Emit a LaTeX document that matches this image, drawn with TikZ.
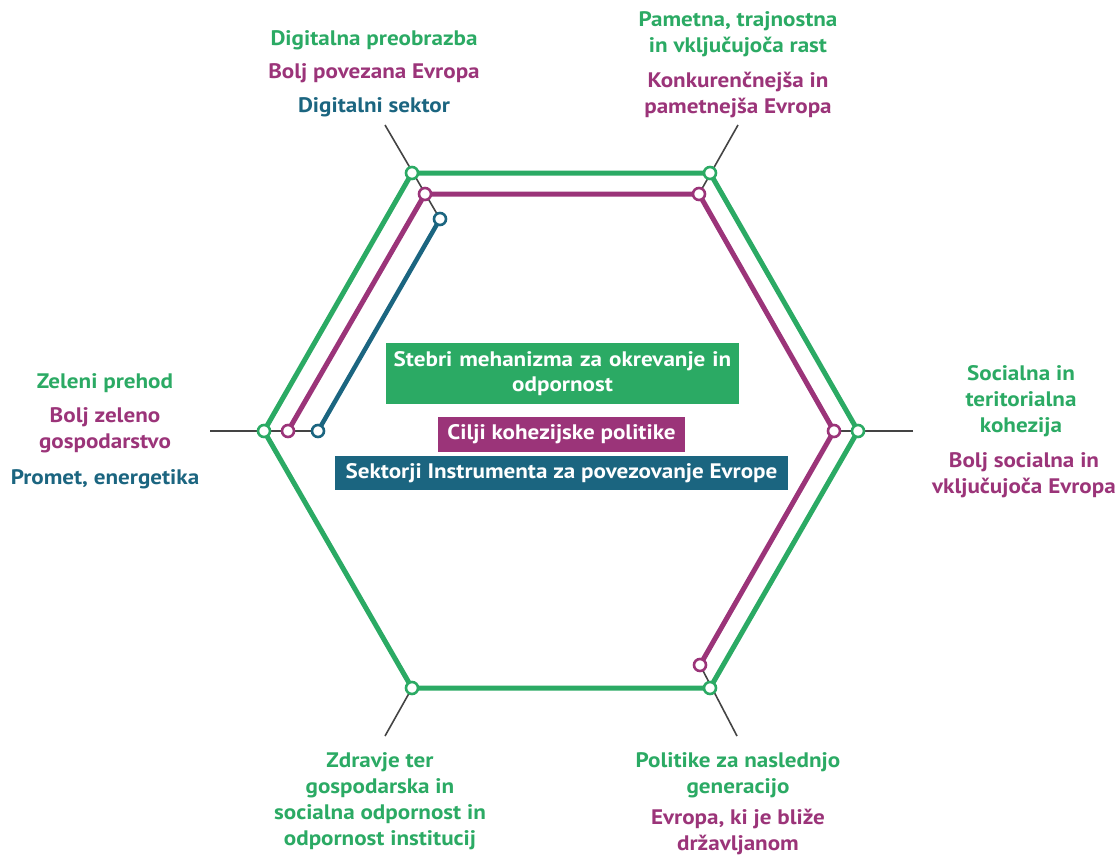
\documentclass[tikz,border=0pt]{standalone}
\usepackage{fontspec}
\setmainfont{PT Sans}[FakeStretch=1.1]
\definecolor{cgreen}{HTML}{2BAA64}
\definecolor{cmag}{HTML}{9B3479}
\definecolor{cblue}{HTML}{1B6580}
\definecolor{cgray}{HTML}{444444}
\tikzset{
  spoke/.style={draw=cgray, line width=1.6pt},
  gline/.style={draw=cgreen, line width=5pt, line join=miter},
  mline/.style={draw=cmag, line width=5pt, line join=miter},
  bline/.style={draw=cblue, line width=4.5pt},
  dot/.style={circle, draw=#1, fill=white, line width=2.6pt, minimum size=12pt, inner sep=0pt},
  lab/.style={text=#1, font=\fontsize{21}{26}\selectfont\bfseries, align=center, inner sep=0pt},
  boxlab/.style={fill=#1, text=white, font=\fontsize{21}{25}\selectfont\bfseries, align=center, inner sep=0pt}
}
\begin{document}
\begin{tikzpicture}[x=1pt,y=-1pt]
\useasboundingbox (0,0) rectangle (1116,857);
% vertex coordinates
\coordinate (G1) at (412,173);
\coordinate (G2) at (710,173);
\coordinate (G3) at (858,431);
\coordinate (G4) at (710,688);
\coordinate (G5) at (412,688);
\coordinate (G6) at (264,431);
\coordinate (M1) at (288,431);
\coordinate (M2) at (425,194);
\coordinate (M3) at (699,194);
\coordinate (M4) at (834,431);
\coordinate (M5) at (700,665);
\coordinate (B1) at (318,431);
\coordinate (B2) at (440,219);
% spoke ends
\coordinate (S1) at (385,125);
\coordinate (S2) at (738,125);
\coordinate (S3) at (913,431);
\coordinate (S4) at (737,736);
\coordinate (S5) at (385,736);
\coordinate (S6) at (210,431);
% spokes
\draw[spoke] (S1) -- (B2);
\draw[spoke] (S2) -- (M3);
\draw[spoke] (S3) -- (M4);
\draw[spoke] (S4) -- (M5);
\draw[spoke] (S5) -- (G5);
\draw[spoke] (S6) -- (B1);
% lines
\draw[gline] (G1) -- (G2) -- (G3) -- (G4) -- (G5) -- (G6) -- cycle;
\draw[mline] (M1) -- (M2) -- (M3) -- (M4) -- (M5);
\draw[bline] (B1) -- (B2);
% dots
\foreach \n in {1,...,6} {\node[dot=cgreen] (g\n) at (G\n) {};}
\foreach \n in {1,...,5} {\node[dot=cmag] (m\n) at (M\n) {};}
\foreach \n in {1,2} {\node[dot=cblue] (b\n) at (B\n) {};}
% labels top-left
\node[lab=cgreen] (t1) at (374,40) {Digitalna preobrazba};
\node[lab=cmag] (t2) at (374,73) {Bolj povezana Evropa};
\node[lab=cblue] (t3) at (374,107) {Digitalni sektor};
% top-right
\node[lab=cgreen] (t4) at (738,34) {Pametna, trajnostna\\in vključujoča rast};
\node[lab=cmag] (t5) at (738,95) {Konkurenčnejša in\\pametnejša Evropa};
% left
\node[lab=cgreen] (t6) at (105,383) {Zeleni prehod};
\node[lab=cmag] (t7) at (105,430) {Bolj zeleno\\gospodarstvo};
\node[lab=cblue] (t8) at (105,479) {Promet, energetika};
% right
\node[lab=cgreen] (t9) at (1021,401) {Socialna in\\teritorialna\\kohezija};
\node[lab=cmag] (t10) at (1024,475) {Bolj socialna in\\vključujoča Evropa};
% bottom-left
\node[lab=cgreen] (t11) at (380,801) {Zdravje ter\\gospodarska in\\socialna odpornost in\\odpornost institucij};
% bottom-right
\node[lab=cgreen] (t12) at (738,775) {Politike za naslednjo\\generacijo};
\node[lab=cmag] (t13) at (738,832) {Evropa, ki je bliže\\državljanom};
% center boxes
\node[boxlab=cgreen, minimum width=353pt, minimum height=61pt, text width=345pt] (c1) at (562.5,373.5) {Stebri mehanizma za okrevanje in\\odpornost};
\node[boxlab=cmag, minimum width=247pt, minimum height=35pt] (c2) at (561.5,434.5) {Cilji kohezijske politike};
\node[boxlab=cblue, minimum width=453pt, minimum height=34pt] (c3) at (561.5,473) {Sektorji Instrumenta za povezovanje Evrope};
\end{tikzpicture}
\end{document}
